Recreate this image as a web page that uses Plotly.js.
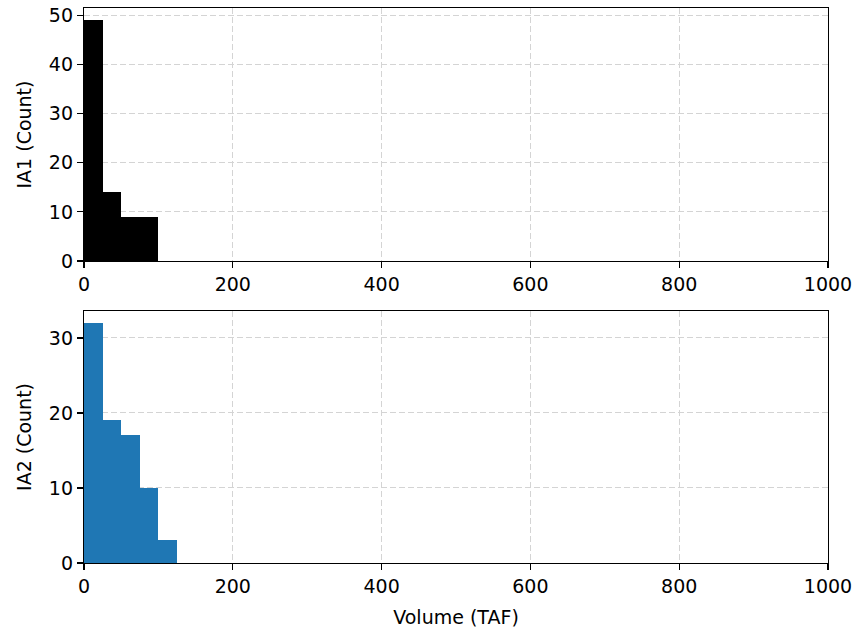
<!DOCTYPE html>
<html>
<head>
<meta charset="utf-8">
<script src="https://cdn.plot.ly/plotly-3.0.1.min.js"></script>
<style>html,body{margin:0;padding:0;background:#fff;}#chart{width:859px;height:632px;}</style>
</head>
<body>
<div id="chart"></div>
<script>
// Histogram bins (left edges, TAF) and counts per bin
const binWidth = 25;
const binStartsIA1 = [0, 25, 50, 75];
const countsIA1 = [49, 14, 9, 9];
const binStartsIA2 = [0, 25, 50, 75, 100];
const countsIA2 = [32, 19, 17, 10, 3];
const xTicks = [0, 200, 400, 600, 800, 1000];

const font = {family: 'DejaVu Sans, sans-serif', size: 19, color: '#000'};

function axisBase() {
  return {
    showline: true, linecolor: '#000', linewidth: 1.2, mirror: true,
    ticks: 'outside', ticklen: 6, tickwidth: 1.2, tickcolor: '#000',
    showgrid: true, gridcolor: '#d4d4d4', griddash: '6px,3px', gridwidth: 1,
    zeroline: false, tickfont: font
  };
}

const traces = [
  {type: 'bar', x: binStartsIA1, y: countsIA1, width: binWidth, offset: 0,
   marker: {color: '#000000', line: {width: 0}}, xaxis: 'x', yaxis: 'y', hoverinfo: 'x+y'},
  {type: 'bar', x: binStartsIA2, y: countsIA2, width: binWidth, offset: 0,
   marker: {color: '#1f77b4', line: {width: 0}}, xaxis: 'x2', yaxis: 'y2', hoverinfo: 'x+y'}
];

const layout = {
  width: 859, height: 632,
  margin: {l: 84, r: 31, t: 8, b: 69},
  paper_bgcolor: '#fff', plot_bgcolor: '#fff',
  showlegend: false, bargap: 0, font: font,
  xaxis: Object.assign(axisBase(), {range: [0, 1000], tickvals: xTicks, domain: [0, 1], anchor: 'y'}),
  yaxis: Object.assign(axisBase(), {range: [0, 51.45], dtick: 10, domain: [0.5441, 1], anchor: 'x',
    title: {text: 'IA1 (Count)', font: font, standoff: 12}}),
  xaxis2: Object.assign(axisBase(), {range: [0, 1000], tickvals: xTicks, domain: [0, 1], anchor: 'y2',
    title: {text: 'Volume (TAF)', font: font, standoff: 14}}),
  yaxis2: Object.assign(axisBase(), {range: [0, 33.6], dtick: 10, domain: [0, 0.4541], anchor: 'x2',
    title: {text: 'IA2 (Count)', font: font, standoff: 12}})
};

Plotly.newPlot('chart', traces, layout, {displayModeBar: false, staticPlot: true});
</script>
</body>
</html>
